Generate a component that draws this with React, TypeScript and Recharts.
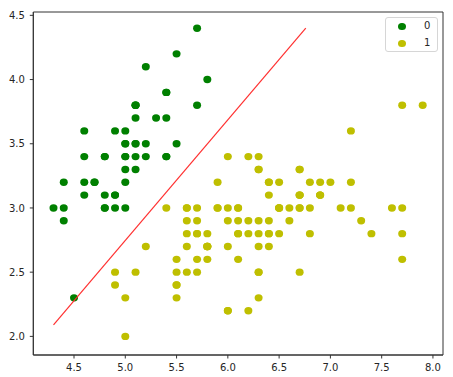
import React from "react";
import {
  ScatterChart, Scatter, XAxis, YAxis, ReferenceArea,
} from "recharts";

// Class 0 (setosa) — sepal length / sepal width
const class0X = [5.1, 4.9, 4.7, 4.6, 5.0, 5.4, 4.6, 5.0, 4.4, 4.9, 5.4, 4.8, 4.8, 4.3, 5.8, 5.7, 5.4, 5.1, 5.7, 5.1, 5.4, 5.1, 4.6, 5.1, 4.8, 5.0, 5.0, 5.2, 5.2, 4.7, 4.8, 5.4, 5.2, 5.5, 4.9, 5.0, 5.5, 4.9, 4.4, 5.1, 5.0, 4.5, 4.4, 5.0, 5.1, 4.8, 5.1, 4.6, 5.3, 5.0];
const class0Y = [3.5, 3.0, 3.2, 3.1, 3.6, 3.9, 3.4, 3.4, 2.9, 3.1, 3.7, 3.4, 3.0, 3.0, 4.0, 4.4, 3.9, 3.5, 3.8, 3.8, 3.4, 3.7, 3.6, 3.3, 3.4, 3.0, 3.4, 3.5, 3.4, 3.2, 3.1, 3.4, 4.1, 4.2, 3.1, 3.2, 3.5, 3.6, 3.0, 3.4, 3.5, 2.3, 3.2, 3.5, 3.8, 3.0, 3.8, 3.2, 3.7, 3.3];

// Class 1 (versicolor + virginica)
const class1X = [
  7.0, 6.4, 6.9, 5.5, 6.5, 5.7, 6.3, 4.9, 6.6, 5.2, 5.0, 5.9, 6.0, 6.1, 5.6, 6.7, 5.6, 5.8, 6.2, 5.6, 5.9, 6.1, 6.3, 6.1, 6.4, 6.6, 6.8, 6.7, 6.0, 5.7, 5.5, 5.5, 5.8, 6.0, 5.4, 6.0, 6.7, 6.3, 5.6, 5.5, 5.5, 6.1, 5.8, 5.0, 5.6, 5.7, 5.7, 6.2, 5.1, 5.7,
  6.3, 5.8, 7.1, 6.3, 6.5, 7.6, 4.9, 7.3, 6.7, 7.2, 6.5, 6.4, 6.8, 5.7, 5.8, 6.4, 6.5, 7.7, 7.7, 6.0, 6.9, 5.6, 7.7, 6.3, 6.7, 7.2, 6.2, 6.1, 6.4, 7.2, 7.4, 7.9, 6.4, 6.3, 6.1, 7.7, 6.3, 6.4, 6.0, 6.9, 6.7, 6.9, 5.8, 6.8, 6.7, 6.7, 6.3, 6.5, 6.2, 5.9,
];
const class1Y = [
  3.2, 3.2, 3.1, 2.3, 2.8, 2.8, 3.3, 2.4, 2.9, 2.7, 2.0, 3.0, 2.2, 2.9, 2.9, 3.1, 3.0, 2.7, 2.2, 2.5, 3.2, 2.8, 2.5, 2.8, 2.9, 3.0, 2.8, 3.0, 2.9, 2.6, 2.4, 2.4, 2.7, 2.7, 3.0, 3.4, 3.1, 2.3, 3.0, 2.5, 2.6, 3.0, 2.6, 2.3, 2.7, 3.0, 2.9, 2.9, 2.5, 2.8,
  3.3, 2.7, 3.0, 2.9, 3.0, 3.0, 2.5, 2.9, 2.5, 3.6, 3.2, 2.7, 3.0, 2.5, 2.8, 3.2, 3.0, 3.8, 2.6, 2.2, 3.2, 2.8, 2.8, 2.7, 3.3, 3.2, 2.8, 3.0, 2.8, 3.0, 2.8, 3.8, 2.8, 2.8, 2.6, 3.0, 3.4, 3.1, 3.0, 3.1, 3.1, 3.1, 2.7, 3.2, 3.3, 3.0, 2.5, 3.0, 3.4, 3.0,
];

// decision boundary endpoints
const lineX = [4.3, 6.76];
const lineY = [2.09, 4.4];

const xTicks = [4.5, 5.0, 5.5, 6.0, 6.5, 7.0, 7.5, 8.0];
const yTicks = [2.0, 2.5, 3.0, 3.5, 4.0, 4.5];
const legendLabels = ["0", "1"];

const X_DOMAIN: [number, number] = [4.103, 8.098];
const Y_DOMAIN: [number, number] = [1.855, 4.526];

const GREEN = "#008000";
const YELLOW = "#bfbf00";
const AXIS = "#333";

const zip = (xs: number[], ys: number[]) => xs.map((x, i) => ({ x, y: ys[i] }));
const pts0 = zip(class0X, class0Y);
const pts1 = zip(class1X, class1Y);
const linePts = zip(lineX, lineY);

const Dot = (color: string) => (p: any) =>
  <ellipse cx={p.cx} cy={p.cy} rx={4} ry={3.7} fill={color} />;

const tickStyle = { fill: "#262626", fontSize: 10, fontFamily: "DejaVu Sans" };

// matplotlib-style legend box, laid over the chart
function LegendBox() {
  const colors = [GREEN, YELLOW];
  return (
    <div style={{
      position: "absolute", left: 385, top: 17,
      width: 53, height: 35, border: "1px solid #d6d6d6", borderRadius: 3, background: "rgba(255,255,255,0.8)",
      boxSizing: "border-box", fontFamily: "DejaVu Sans", fontSize: 10, color: "#262626",
    }}>
      {legendLabels.map((l, i) => (
        <div key={l} style={{ position: "absolute", left: 0, top: 3 + i * 17, height: 12, width: 52 }}>
          <span style={{ position: "absolute", left: 12, top: 1.5, width: 8, height: 7.5, borderRadius: "50%", background: colors[i] }} />
          <span style={{ position: "absolute", left: 38, top: -1, lineHeight: "12px" }}>{l}</span>
        </div>
      ))}
    </div>
  );
}

export default function App() {
  return (
    <div style={{ position: "absolute", left: 0, top: 0, width: 453, height: 377, background: "#fff" }}>
      <ScatterChart width={453} height={377} margin={{ top: 12, right: 10, left: 0, bottom: 0 }}>
        <XAxis
          type="number" dataKey="x" domain={X_DOMAIN} ticks={xTicks} allowDataOverflow
          height={22} tickSize={3.5} tickMargin={5} tick={tickStyle}
          tickFormatter={(v: number) => v.toFixed(1)}
          stroke={AXIS} axisLine={{ stroke: AXIS }} tickLine={{ stroke: AXIS }}
        />
        <YAxis
          type="number" dataKey="y" domain={Y_DOMAIN} ticks={yTicks} allowDataOverflow
          width={33.3} tickSize={3.5} tickMargin={5} tick={tickStyle}
          tickFormatter={(v: number) => v.toFixed(1)}
          stroke={AXIS} axisLine={{ stroke: AXIS }} tickLine={{ stroke: AXIS }}
        />
        <ReferenceArea x1={X_DOMAIN[0]} x2={X_DOMAIN[1]} y1={Y_DOMAIN[0]} y2={Y_DOMAIN[1]}
          fill="none" stroke={AXIS} strokeWidth={1} ifOverflow="visible" />
        <Scatter name="0" data={pts0} shape={Dot(GREEN)} isAnimationActive={false} />
        <Scatter name="1" data={pts1} shape={Dot(YELLOW)} isAnimationActive={false} />
        <Scatter data={linePts} line={{ stroke: "#ff3030", strokeWidth: 1.2 }} shape={() => null}
          isAnimationActive={false} legendType="none" />
      </ScatterChart>
      <LegendBox />
    </div>
  );
}
